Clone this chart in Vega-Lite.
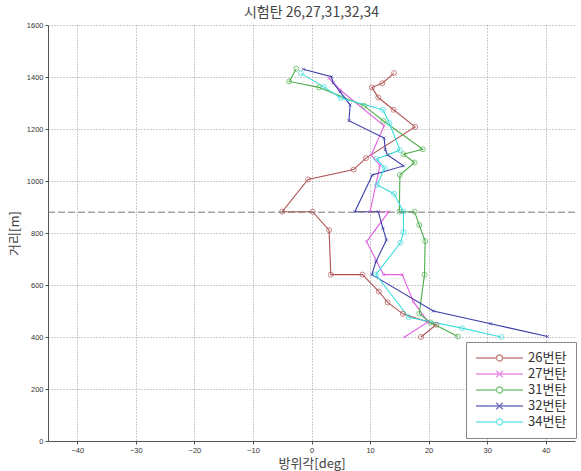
{
  "$schema": "https://vega.github.io/schema/vega-lite/v6.json",
  "width": 527,
  "height": 416,
  "autosize": "none",
  "padding": {"left": 48, "top": 25, "right": 6, "bottom": 30},
  "background": "white",
  "title": {"text": "시험탄 26,27,31,32,34", "font": "Noto Sans CJK KR", "fontSize": 14, "fontWeight": "normal", "color": "#444", "offset": 1, "anchor": "middle", "frame": "group"},
  "config": {
    "view": {"stroke": null},
    "axis": {"labelFont": "Liberation Sans", "labelFontSize": 7.5, "labelColor": "#333", "titleFont": "Noto Sans CJK KR", "titleFontSize": 13, "titleFontWeight": "normal", "titleColor": "#444", "domainColor": "#555", "tickColor": "#555", "tickSize": 3, "gridColor": "#999", "gridDash": [1, 2], "gridWidth": 1}
  },
  "datasets": {
    "pts": [
      {"s": "26번탄", "deg": 18.7, "m": 400}, {"s": "26번탄", "deg": 21.3, "m": 447}, {"s": "26번탄", "deg": 15.6, "m": 489}, {"s": "26번탄", "deg": 13.0, "m": 533}, {"s": "26번탄", "deg": 11.5, "m": 575}, {"s": "26번탄", "deg": 8.7, "m": 640}, {"s": "26번탄", "deg": 3.3, "m": 640}, {"s": "26번탄", "deg": 3.0, "m": 811}, {"s": "26번탄", "deg": 0.2, "m": 882}, {"s": "26번탄", "deg": -5.0, "m": 882}, {"s": "26번탄", "deg": -0.6, "m": 1006}, {"s": "26번탄", "deg": 7.2, "m": 1044}, {"s": "26번탄", "deg": 9.3, "m": 1088}, {"s": "26번탄", "deg": 17.7, "m": 1208}, {"s": "26번탄", "deg": 14.0, "m": 1274}, {"s": "26번탄", "deg": 11.4, "m": 1321}, {"s": "26번탄", "deg": 10.3, "m": 1360}, {"s": "26번탄", "deg": 12.1, "m": 1376}, {"s": "26번탄", "deg": 14.1, "m": 1415},
      {"s": "27번탄", "deg": 15.9, "m": 400}, {"s": "27번탄", "deg": 19.9, "m": 458}, {"s": "27번탄", "deg": 17.4, "m": 536}, {"s": "27번탄", "deg": 15.5, "m": 640}, {"s": "27번탄", "deg": 12.3, "m": 640}, {"s": "27번탄", "deg": 9.4, "m": 767}, {"s": "27번탄", "deg": 13.2, "m": 882}, {"s": "27번탄", "deg": 10.0, "m": 882}, {"s": "27번탄", "deg": 11.7, "m": 1060}, {"s": "27번탄", "deg": 10.2, "m": 1100}, {"s": "27번탄", "deg": 12.4, "m": 1212}, {"s": "27번탄", "deg": 4.9, "m": 1350}, {"s": "27번탄", "deg": 3.0, "m": 1395},
      {"s": "31번탄", "deg": 25.0, "m": 402}, {"s": "31번탄", "deg": 20.3, "m": 456}, {"s": "31번탄", "deg": 18.4, "m": 490}, {"s": "31번탄", "deg": 19.3, "m": 640}, {"s": "31번탄", "deg": 19.4, "m": 769}, {"s": "31번탄", "deg": 18.4, "m": 831}, {"s": "31번탄", "deg": 17.6, "m": 882}, {"s": "31번탄", "deg": 15.0, "m": 882}, {"s": "31번탄", "deg": 15.1, "m": 1023}, {"s": "31번탄", "deg": 17.6, "m": 1071}, {"s": "31번탄", "deg": 15.7, "m": 1103}, {"s": "31번탄", "deg": 19.0, "m": 1122}, {"s": "31번탄", "deg": 12.3, "m": 1231}, {"s": "31번탄", "deg": 9.0, "m": 1289}, {"s": "31번탄", "deg": 1.3, "m": 1360}, {"s": "31번탄", "deg": -3.8, "m": 1383}, {"s": "31번탄", "deg": -2.6, "m": 1432},
      {"s": "32번탄", "deg": 40.3, "m": 402}, {"s": "32번탄", "deg": 30.6, "m": 451}, {"s": "32번탄", "deg": 20.8, "m": 500}, {"s": "32번탄", "deg": 10.3, "m": 640}, {"s": "32번탄", "deg": 11.0, "m": 690}, {"s": "32번탄", "deg": 12.8, "m": 773}, {"s": "32번탄", "deg": 12.2, "m": 818}, {"s": "32번탄", "deg": 11.4, "m": 882}, {"s": "32번탄", "deg": 7.4, "m": 882}, {"s": "32번탄", "deg": 10.4, "m": 1023}, {"s": "32번탄", "deg": 15.7, "m": 1058}, {"s": "32번탄", "deg": 13.0, "m": 1100}, {"s": "32번탄", "deg": 12.6, "m": 1121}, {"s": "32번탄", "deg": 12.4, "m": 1165}, {"s": "32번탄", "deg": 6.4, "m": 1232}, {"s": "32번탄", "deg": 6.6, "m": 1293}, {"s": "32번탄", "deg": 4.9, "m": 1343}, {"s": "32번탄", "deg": 3.7, "m": 1378}, {"s": "32번탄", "deg": 3.4, "m": 1401}, {"s": "32번탄", "deg": -1.4, "m": 1430},
      {"s": "34번탄", "deg": 32.4, "m": 400}, {"s": "34번탄", "deg": 25.7, "m": 434}, {"s": "34번탄", "deg": 16.6, "m": 476}, {"s": "34번탄", "deg": 11.0, "m": 640}, {"s": "34번탄", "deg": 15.2, "m": 763}, {"s": "34번탄", "deg": 15.7, "m": 803}, {"s": "34번탄", "deg": 15.7, "m": 882}, {"s": "34번탄", "deg": 14.1, "m": 951}, {"s": "34번탄", "deg": 11.2, "m": 985}, {"s": "34번탄", "deg": 12.5, "m": 1050}, {"s": "34번탄", "deg": 11.1, "m": 1085}, {"s": "34번탄", "deg": 15.1, "m": 1119}, {"s": "34번탄", "deg": 13.3, "m": 1223}, {"s": "34번탄", "deg": 12.2, "m": 1274}, {"s": "34번탄", "deg": 5.0, "m": 1319}, {"s": "34번탄", "deg": 2.1, "m": 1362}, {"s": "34번탄", "deg": -1.8, "m": 1414}
    ]
  },
  "encoding": {
    "x": {"field": "deg", "type": "quantitative", "scale": {"domain": [-45, 45], "nice": false, "zero": false}, "axis": {"values": [-40, -30, -20, -10, 0, 10, 20, 30, 40], "title": "방위각[deg]", "titlePadding": 4, "labelPadding": 2}},
    "y": {"field": "m", "type": "quantitative", "scale": {"domain": [0, 1600], "nice": false}, "axis": {"values": [0, 200, 400, 600, 800, 1000, 1200, 1400, 1600], "format": "d", "title": "거리[m]", "titlePadding": 5, "labelPadding": 2}}
  },
  "layer": [
    {
      "data": {"name": "pts"},
      "mark": {"type": "line", "strokeWidth": 1.1},
      "encoding": {
        "color": {"field": "s", "type": "nominal", "scale": {"range": ["#b05252", "#e060e0", "#4caf4c", "#3a3aa8", "#3ddddd"]}, "legend": null},
        "order": {"value": null}
      }
    },
    {
      "data": {"name": "pts"},
      "transform": [{"filter": "datum.s == '26번탄' || datum.s == '31번탄' || datum.s == '34번탄'"}],
      "mark": {"type": "point", "shape": "circle", "filled": false, "size": 25, "strokeWidth": 1},
      "encoding": {
        "color": {"field": "s", "type": "nominal", "legend": null}
      }
    },
    {
      "data": {"name": "pts"},
      "transform": [{"filter": "datum.s == '27번탄' || datum.s == '32번탄'"}],
      "mark": {"type": "point", "shape": "M-1,-1L1,1M-1,1L1,-1", "filled": false, "size": 9, "strokeWidth": 1},
      "encoding": {
        "color": {"field": "s", "type": "nominal", "legend": null}
      }
    },
    {
      "data": {"values": [{"y": 880}]},
      "mark": {"type": "rule", "color": "#777", "strokeDash": [7, 3], "strokeWidth": 1},
      "encoding": {"y": {"field": "y", "type": "quantitative"}, "x": null}
    },
    {
      "data": {"values": []},
      "mark": {"type": "point", "filled": false, "strokeWidth": 1.3},
      "encoding": {
        "x": null,
        "y": null,
        "stroke": {"field": "s", "type": "nominal", "scale": {"domain": ["26번탄", "27번탄", "31번탄", "32번탄", "34번탄"], "range": ["#b05252", "#e060e0", "#4caf4c", "#3a3aa8", "#3ddddd"]},
          "legend": {"orient": "none", "legendX": 418, "legendY": 317, "title": null, "strokeColor": "#888", "fillColor": "white", "padding": 9, "labelFont": "Noto Sans CJK KR", "labelFontSize": 13, "labelColor": "#333", "labelOffset": 39, "rowPadding": 2, "symbolSize": 144, "symbolStrokeWidth": 1.3}},
        "shape": {"field": "s", "type": "nominal", "scale": {"domain": ["26번탄", "27번탄", "31번탄", "32번탄", "34번탄"], "range": [
          "M-1,0H2.42M3.42,0H6.83M2.42,0A0.5,0.5 0 1,1 3.42,0A0.5,0.5 0 1,1 2.42,0Z",
          "M-1,0H6.83M2.37,-0.55L3.47,0.55M2.37,0.55L3.47,-0.55",
          "M-1,0H2.42M3.42,0H6.83M2.42,0A0.5,0.5 0 1,1 3.42,0A0.5,0.5 0 1,1 2.42,0Z",
          "M-1,0H6.83M2.37,-0.55L3.47,0.55M2.37,0.55L3.47,-0.55",
          "M-1,0H2.42M3.42,0H6.83M2.42,0A0.5,0.5 0 1,1 3.42,0A0.5,0.5 0 1,1 2.42,0Z"
        ]},
          "legend": {"orient": "none", "legendX": 418, "legendY": 317, "title": null, "strokeColor": "#888", "fillColor": "white", "padding": 9, "labelFont": "Noto Sans CJK KR", "labelFontSize": 13, "labelColor": "#333", "labelOffset": 39, "rowPadding": 2, "symbolSize": 144, "symbolStrokeWidth": 1.3}}
      }
    }
  ]
}
